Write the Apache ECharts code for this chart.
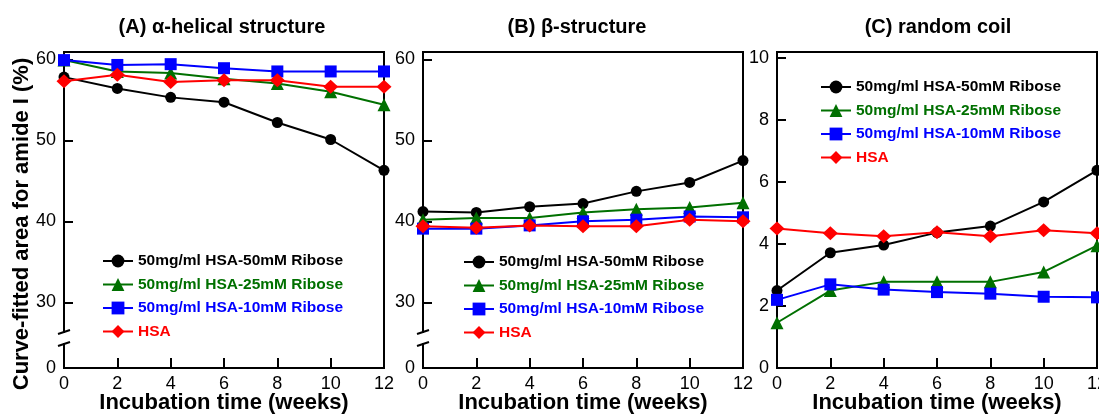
<!DOCTYPE html>
<html><head><meta charset="utf-8">
<script src="https://cdn.jsdelivr.net/npm/echarts@6/dist/echarts.min.js"></script>
<style>html,body{margin:0;padding:0;background:#fff}#c{width:1099px;height:414px}</style>
</head><body><div id="c"></div>
<script>
// ---- data ----
const weeks = [0, 2, 4, 6, 8, 10, 12];
const seriesNames = ['50mg/ml HSA-50mM Ribose', '50mg/ml HSA-25mM Ribose', '50mg/ml HSA-10mM Ribose', 'HSA'];
const panelTitles = ['(A) α-helical structure', '(B) β-structure', '(C) random coil'];
const xAxisName = 'Incubation time (weeks)';
const yAxisName = 'Curve-fitted area for amide I (%)';
const helixRibose50 = [57.8, 56.4, 55.3, 54.7, 52.2, 50.1, 46.3];
const helixRibose25 = [59.9, 58.5, 58.3, 57.6, 57.0, 56.0, 54.4];
const helixRibose10 = [59.9, 59.3, 59.4, 58.9, 58.5, 58.5, 58.5];
const helixHSA = [57.3, 58.1, 57.2, 57.4, 57.4, 56.6, 56.6];
const betaRibose50 = [41.2, 41.1, 41.8, 42.2, 43.7, 44.8, 47.5];
const betaRibose25 = [40.2, 40.4, 40.4, 41.1, 41.5, 41.7, 42.3];
const betaRibose10 = [39.1, 39.1, 39.5, 40.0, 40.2, 40.6, 40.5];
const betaHSA = [39.4, 39.2, 39.5, 39.4, 39.4, 40.2, 40.0];
const coilRibose50 = [2.5, 3.72, 3.97, 4.37, 4.58, 5.36, 6.38];
const coilRibose25 = [1.46, 2.5, 2.78, 2.78, 2.78, 3.1, 3.95];
const coilRibose10 = [2.2, 2.7, 2.53, 2.45, 2.4, 2.3, 2.28];
const coilHSA = [4.5, 4.35, 4.25, 4.38, 4.25, 4.45, 4.35];
const brokenAxisTicks = [30, 40, 50, 60];
const brokenAxisBottomLabel = '0';
const coilTicks = [0, 2, 4, 6, 8, 10];

// ---- layout / style ----
const FONT = 'Liberation Sans, Arial, sans-serif';
const colors = ['#000000', '#007000', '#0000ff', '#ff0000'];
const symbols = ['circle', 'triangle', 'rect', 'diamond'];
const symbolSizes = [11, 13, 12, [15, 14]];
const grids = [
  { left: 64, top: 52, width: 320, height: 316 },
  { left: 423, top: 52, width: 320, height: 316 },
  { left: 777, top: 52, width: 320, height: 316 }
];
const brokenMin = 21.9, brokenMax = 60.9;
const breakValue = 25.6;
const panelData = [
  [helixRibose50, helixRibose25, helixRibose10, helixHSA],
  [betaRibose50, betaRibose25, betaRibose10, betaHSA],
  [coilRibose50, coilRibose25, coilRibose10, coilHSA]
];

const chart = echarts.init(document.getElementById('c'), null, { renderer: 'canvas' });

const xAxes = grids.map((g, i) => ({
  type: 'value', gridIndex: i, min: 0, max: 12, interval: 2,
  name: xAxisName, nameLocation: 'middle', nameGap: 24, nameMoveOverlap: false,
  nameTextStyle: { fontFamily: FONT, fontSize: 22, fontWeight: 'bold', color: '#000' },
  axisLine: { lineStyle: { color: '#000', width: 2 } },
  axisTick: { show: true, inside: true, length: 10, lineStyle: { color: '#000', width: 2 } },
  axisLabel: { fontFamily: FONT, fontSize: 18, color: '#000', margin: 7 },
  splitLine: { show: false }
}));

function brokenY(i) {
  return {
    type: 'value', gridIndex: i, min: brokenMin, max: brokenMax,
    axisLine: { lineStyle: { color: '#000', width: 2 } },
    axisTick: { show: true, inside: true, length: 9, customValues: brokenAxisTicks, lineStyle: { color: '#000', width: 2 } },
    axisLabel: {
      fontFamily: FONT, fontSize: 18, color: '#000', margin: 8,
      customValues: [brokenMin].concat(brokenAxisTicks),
      formatter: v => (v < brokenAxisTicks[0] ? brokenAxisBottomLabel : String(v))
    },
    splitLine: { show: false }
  };
}
const yAxes = [brokenY(0), brokenY(1), {
  type: 'value', gridIndex: 2, min: 0, max: 10.2,
  axisLine: { lineStyle: { color: '#000', width: 2 } },
  axisTick: { show: true, inside: true, length: 9, customValues: coilTicks, lineStyle: { color: '#000', width: 2 } },
  axisLabel: { fontFamily: FONT, fontSize: 18, color: '#000', margin: 8, customValues: coilTicks },
  splitLine: { show: false }
}];
Object.assign(yAxes[0], {
  name: yAxisName, nameLocation: 'middle', nameGap: 31, nameRotate: 90, nameMoveOverlap: false,
  nameTextStyle: { fontFamily: FONT, fontSize: 22, fontWeight: 'bold', color: '#000', padding: [0, 28, 0, 0] }
});

const series = [];
panelData.forEach((arrs, p) => {
  arrs.forEach((vals, k) => {
    series.push({
      type: 'line', name: seriesNames[k], xAxisIndex: p, yAxisIndex: p,
      data: weeks.map((w, j) => [w, vals[j]]),
      symbol: symbols[k], symbolSize: symbolSizes[k], clip: false,
      lineStyle: { color: colors[k], width: 2 },
      itemStyle: { color: colors[k] },
      emphasis: { disabled: true }, animation: false, z: 2 + k
    });
  });
});

const legendPos = [{ left: 102, top: 253 }, { left: 463, top: 254 }, { left: 820, top: 79 }];
const legends = legendPos.map(pos => Object.assign({
  orient: 'vertical', itemWidth: 30, itemHeight: 16, itemGap: 7.5, padding: 0,
  selectedMode: false,
  textStyle: { fontFamily: FONT, fontSize: 15.5, fontWeight: 'bold' },
  data: seriesNames.map((n, k) => ({ name: n, textStyle: { color: colors[k] } }))
}, pos));

const titleCenters = [222, 577, 938];
const titles = panelTitles.map((t, i) => ({
  text: t, left: titleCenters[i], top: 17, textAlign: 'center', padding: 0,
  textStyle: { fontFamily: FONT, fontSize: 20, fontWeight: 'bold', color: '#000' }
}));

chart.setOption({
  animation: false,
  backgroundColor: '#fff',
  title: titles,
  legend: legends,
  grid: grids.map(g => Object.assign({ show: true, borderColor: '#000', borderWidth: 2, containLabel: false, outerBoundsMode: 'none' }, g)),
  xAxis: xAxes,
  yAxis: yAxes,
  series: series
});

// axis-break marks on the two broken axes, placed through the axes' own scales
const gfx = [];
[0, 1].forEach(i => {
  const x = chart.convertToPixel({ xAxisIndex: i }, 0);
  const cy = chart.convertToPixel({ yAxisIndex: i }, breakValue);
  gfx.push({ type: 'rect', shape: { x: x - 4, y: cy - 5, width: 8, height: 10 }, style: { fill: '#fff' }, z: 100 });
  [-6, 6].forEach(d => gfx.push({
    type: 'line', shape: { x1: x - 6, y1: cy + d + 2, x2: x + 6, y2: cy + d - 2 },
    style: { stroke: '#000', lineWidth: 2 }, z: 101
  }));
});
chart.setOption({ graphic: gfx });
</script>
</body></html>
